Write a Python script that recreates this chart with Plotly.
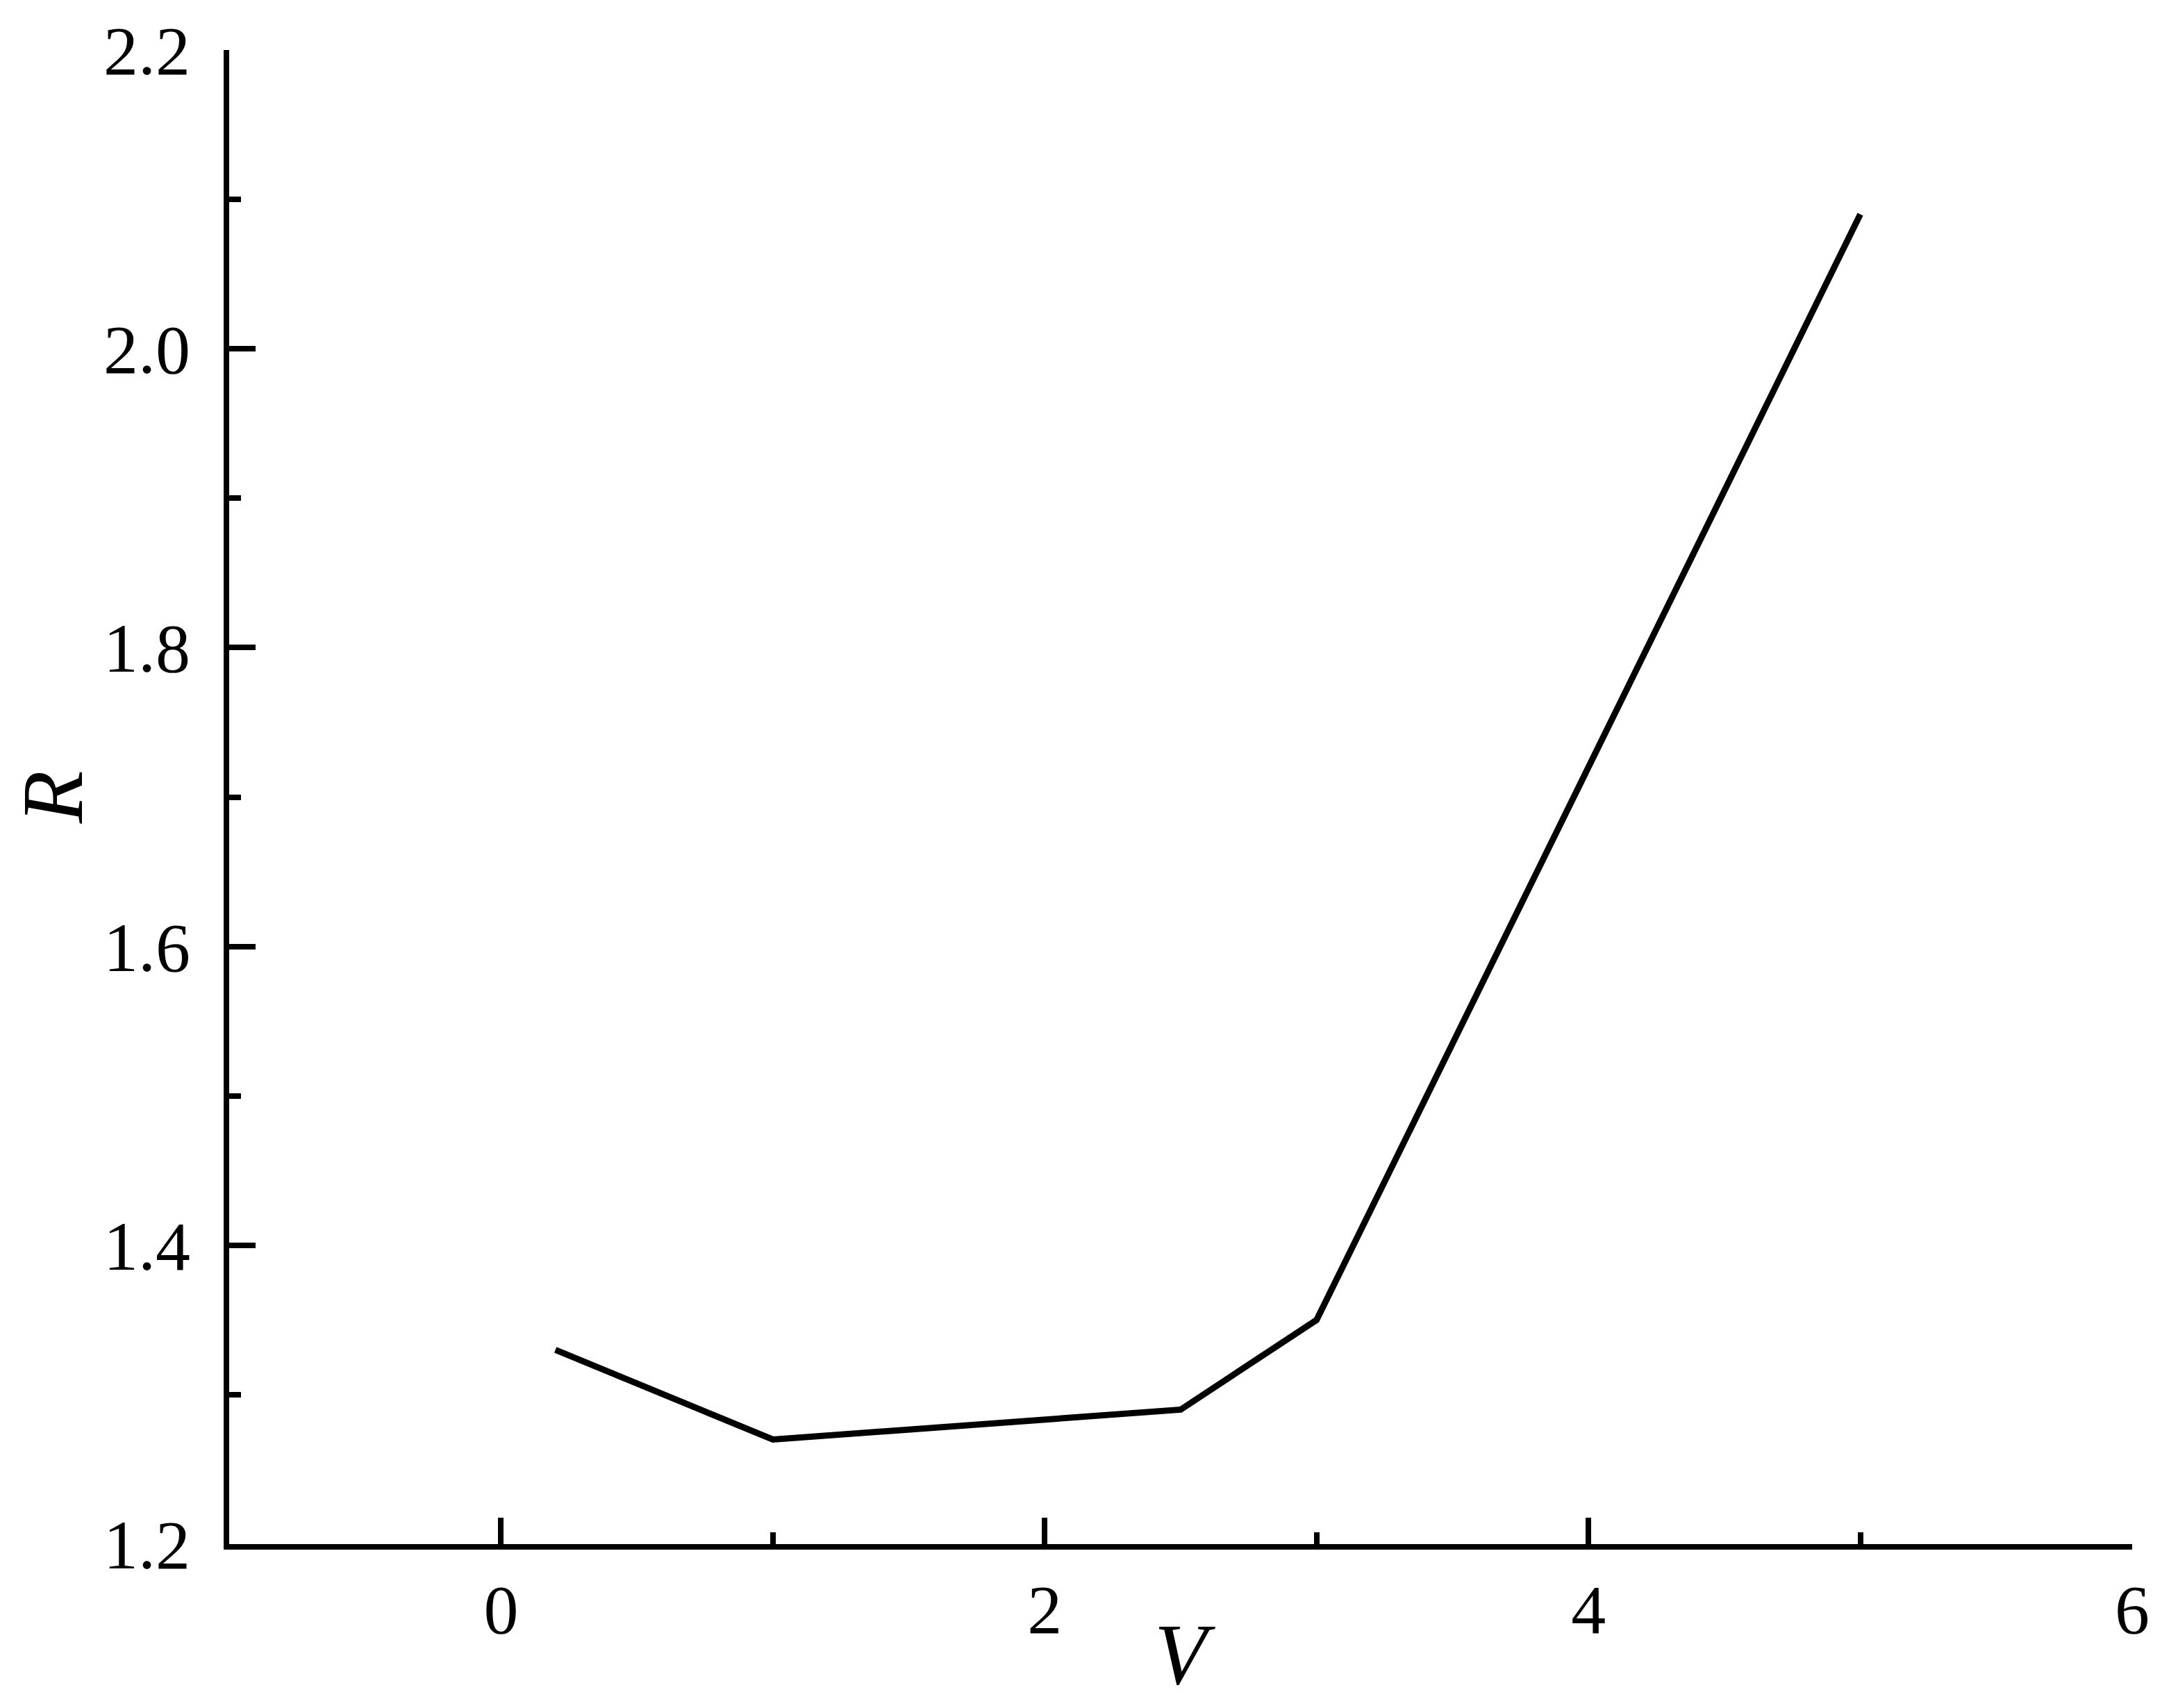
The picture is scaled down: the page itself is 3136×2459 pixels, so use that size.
import plotly.graph_objects as go

V = [0.2, 1.0, 2.5, 3.0, 5.0]
R = [1.33, 1.27, 1.29, 1.35, 2.09]

x_ticks = [0, 2, 4, 6]
y_ticks = [1.2, 1.4, 1.6, 1.8, 2.0, 2.2]
y_tick_text = ["1.2", "1.4", "1.6", "1.8", "2.0", "2.2"]

W, H = 3120, 2443
FONT = "Liberation Serif"

fig = go.Figure()
fig.add_trace(go.Scatter(x=V, y=R, mode="lines",
                         line=dict(color="black", width=9), showlegend=False))

axis_common = dict(
    showgrid=False, zeroline=False, showline=True, linecolor="black", linewidth=8,
    ticks="inside", ticklen=38, tickwidth=8, tickcolor="black",
    tickfont=dict(family=FONT, size=100, color="black"),
    mirror=False,
)

fig.update_xaxes(range=[-1, 6], tickvals=x_ticks, ticktext=[str(t) for t in x_ticks],
                 minor=dict(dtick=1, tick0=0, ticks="inside", ticklen=17, tickwidth=8, tickcolor="black"),
                 ticklabelstandoff=0,
                 title=dict(text="<i>V</i>", font=dict(family=FONT, size=124, color="black"), standoff=0),
                 **axis_common)
fig.update_yaxes(range=[1.2, 2.2], tickvals=y_ticks, ticktext=y_tick_text,
                 minor=dict(dtick=0.1, tick0=1.2, ticks="inside", ticklen=17, tickwidth=8, tickcolor="black"),
                 ticklabelstandoff=28,
                 title=dict(text="<i>R</i>", font=dict(family=FONT, size=124, color="black"), standoff=97),
                 **axis_common)

fig.update_layout(
    width=W, height=H,
    margin=dict(l=322, r=58, t=64, b=228, autoexpand=False),
    paper_bgcolor="white", plot_bgcolor="white",
)

fig.write_html("out.html")
